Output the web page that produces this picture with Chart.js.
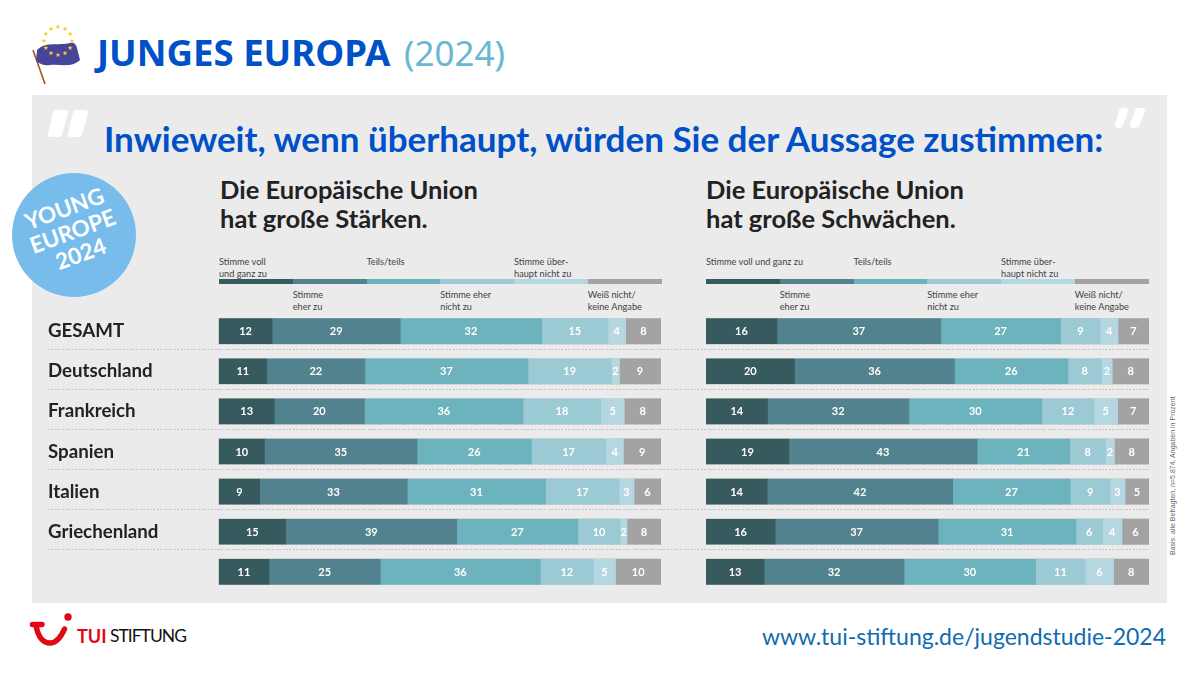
<!DOCTYPE html>
<html lang="de"><head><meta charset="utf-8">
<style>
html,body{margin:0;padding:0;background:#fff;width:1200px;height:675px;overflow:hidden}
body{position:relative;font-family:"Lato",sans-serif}
.a{position:absolute;white-space:nowrap}
#panel{left:32px;top:95px;width:1135px;height:508px;background:#ebebeb}
#t1{left:97px;top:28px;font:700 36.6px/48px "Noto Sans",sans-serif;color:#0050c8}
#t1 span{font-weight:400;font-size:35px;color:#6ab7cf;margin-left:4px}
#q{left:104px;top:114px;font:700 35px/48px "Lato",sans-serif;color:#0050c8}
.sub{font:700 25.5px/29px "Lato",sans-serif;color:#222;top:175px}
.lg{font:400 9.2px/11.5px "Lato",sans-serif;color:#444}
.strip{position:absolute;top:279px;height:5px}
.dot{position:absolute;left:48px;width:1101px;height:1px;background:repeating-linear-gradient(90deg,#c4c4c4 0 2px,transparent 2px 3.4px)}
canvas{position:absolute;display:block}
#url{right:34px;top:619px;font:400 23px/34px "Lato",sans-serif;color:#0f6cb0}
#basis{left:1168px;top:555px;font:400 7px/9px "Liberation Sans",sans-serif;color:#666;transform-origin:0 0;transform:rotate(-90deg)}
#young{left:11.5px;top:173px;width:124px;height:124px;border-radius:50%;background:#78bcec}
#yt{left:11.5px;top:173px;width:124px;text-align:center;color:#fff;font:700 22.5px/24px "Lato",sans-serif;transform:rotate(-20deg);padding-top:22px;height:102px}
#logo1{left:77px;top:623.5px;font:700 18px/24px "Lato",sans-serif;color:#e30613}
#logo2{left:110px;top:623.5px;font:400 17.5px/24px "Lato",sans-serif;letter-spacing:-1px;color:#111}
</style></head><body>
<div id="panel" class="a"></div>
<svg class="a" style="left:28px;top:20px" width="60" height="70" viewBox="28 20 60 70">
  <path d="M33 50 L45 84" stroke="#a4561c" stroke-width="1.6" fill="none"/>
  <path d="M37 50 C46 41 58 46 70 43 C74 42 76 44 77 48 L80 60 C72 68 60 64 50 65 C44 66 40 64 36 61 Z" fill="#46459a"/>
  <g fill="#f6cc2c" id="stars"></g>
</svg>
<div id="t1" class="a">JUNGES EUROPA <span>(2024)</span></div>
<svg class="a" style="left:40px;top:100px" width="1120" height="45" viewBox="40 100 1120 45" fill="#fff">
  <g stroke="#fff" stroke-width="6" stroke-linejoin="round">
    <path d="M56 113 L65 113 L59 134 L51 134 Z"/><path d="M76 113 L85 113 L79 134 L71 134 Z"/>
    <path d="M1122 111 L1125 111 L1120 125 L1118 125 Z"/><path d="M1138 111 L1142 111 L1136 125 L1133 125 Z"/>
  </g>
</svg>
<div id="q" class="a">Inwieweit, wenn überhaupt, würden Sie der Aussage zustimmen:</div>
<div id="young" class="a"></div>
<div id="yt" class="a">YOUNG<br>EUROPE<br>2024</div>
<div class="a sub" style="left:220px">Die Europäische Union<br>hat große Stärken.</div>
<div class="a sub" style="left:706px">Die Europäische Union<br>hat große Schwächen.</div>
<div id="legends"></div>
<div id="dots"></div>
<canvas id="c1" width="613" height="281" style="left:48px;top:311px"></canvas>
<canvas id="c2" width="443" height="281" style="left:706px;top:311px"></canvas>
<div id="basis" class="a">Basis: alle Befragten, n=5.874, Angaben in Prozent</div>
<svg class="a" style="left:28px;top:612px" width="50" height="40" viewBox="28 612 50 40">
  <path d="M32.5 624.5 L42 624.5 M36 625 C38 638 44 643 50 643 C56 643 61 637 64.5 629" fill="none" stroke="#e30613" stroke-width="5.5" stroke-linecap="round" stroke-linejoin="round"/>
  <circle cx="68" cy="617" r="3.7" fill="#e30613"/>
</svg>
<div id="logo1" class="a">TUI</div>
<div id="logo2" class="a">STIFTUNG</div>
<div id="url" class="a">www.tui-stiftung.de/jugendstudie-2024</div>
<script src="https://cdn.jsdelivr.net/npm/chart.js@4/dist/chart.umd.min.js"></script>
<script>
const categories = ["GESAMT","Deutschland","Frankreich","Spanien","Italien","Griechenland",""];
const seriesNames = ["Stimme voll und ganz zu","Stimme eher zu","Teils/teils","Stimme eher nicht zu","Stimme überhaupt nicht zu","Weiß nicht/keine Angabe"];
const seriesColors = ["#375a5e","#52828d","#6cb3bd","#9bcad5","#b5d7e1","#a3a3a3"];

const staerkenVoll   = [12.0,10.8,12.5,10.3, 9.2,15.1,11.3];
const staerkenEher   = [29.0,22.2,20.4,34.5,33.4,38.7,25.2];
const staerkenTeils  = [32.0,36.9,35.9,25.9,31.3,27.4,36.2];
const staerkenNicht  = [15.0,18.9,17.6,16.8,16.6, 9.6,12.0];
const staerkenUeber  = [ 4.0, 1.8, 5.3, 4.0, 3.4, 1.5, 5.0];
const staerkenWeiss  = [ 8.0, 9.3, 8.3, 8.5, 6.1, 7.7,10.3];

const schwaechenVoll  = [16.0,20.0,13.9,18.7,13.8,15.6,13.1];
const schwaechenEher  = [37.0,36.1,31.9,42.5,41.9,36.8,31.6];
const schwaechenTeils = [27.0,25.6,30.0,20.9,26.5,31.1,29.7];
const schwaechenNicht = [ 9.0, 7.6,11.8, 8.1, 9.0, 6.0,11.2];
const schwaechenUeber = [ 4.0, 2.4, 5.3, 2.0, 3.4, 4.4, 6.4];
const schwaechenWeiss = [ 7.0, 8.3, 7.1, 7.8, 5.4, 6.1, 8.0];

/* decoration: flag stars */
const starsG = document.getElementById('stars');
for (let i = 0; i < 12; i++) {
  const a = i * Math.PI / 6, cx = 58 + 14 * Math.sin(a), cy = 41 - 14 * Math.cos(a);
  let d = '';
  for (let k = 0; k < 10; k++) {
    const r = k % 2 ? 1.1 : 2.6, t = k * Math.PI / 5 - Math.PI / 2;
    d += (k ? 'L' : 'M') + (cx + r * Math.cos(t)).toFixed(2) + ' ' + (cy + r * Math.sin(t)).toFixed(2);
  }
  const p = document.createElementNS('http://www.w3.org/2000/svg', 'path');
  p.setAttribute('d', d + 'Z');
  starsG.appendChild(p);
}

/* legend strips + labels */
const legendTexts = {
  left:  [["Stimme voll","und ganz zu"],["Stimme","eher zu"],["Teils/teils"],["Stimme eher","nicht zu"],["Stimme über-","haupt nicht zu"],["Weiß nicht/","keine Angabe"]],
  right: [["Stimme voll und ganz zu"],["Stimme","eher zu"],["Teils/teils"],["Stimme eher","nicht zu"],["Stimme über-","haupt nicht zu"],["Weiß nicht/","keine Angabe"]]
};
const legendHost = document.getElementById('legends');
[[219, 'left'], [706, 'right']].forEach(([x0, side]) => {
  const w = 442.5 / 6;
  seriesColors.forEach((c, i) => {
    const s = document.createElement('div');
    s.className = 'strip';
    s.style.cssText = `left:${x0 + i * w}px;width:${w}px;background:${c}`;
    legendHost.appendChild(s);
    const l = document.createElement('div');
    l.className = 'a lg';
    l.innerHTML = legendTexts[side][i].join('<br>');
    l.style.left = (x0 + i * w) + 'px';
    l.style.top = (i % 2 === 0 ? 256 : 289) + 'px';
    legendHost.appendChild(l);
  });
});

/* dotted separators */
const dotHost = document.getElementById('dots');
[349, 389, 429, 469, 509, 549].forEach(y => {
  const d = document.createElement('div');
  d.className = 'dot';
  d.style.top = y + 'px';
  dotHost.appendChild(d);
});

const barExtras = {
  id: 'barExtras',
  beforeDatasetsDraw(chart) {
    const { ctx, scales: { x, y } } = chart;
    ctx.save();
    ctx.strokeStyle = '#d3d3d3';
    ctx.lineWidth = 1;
    categories.forEach((_, i) => {
      const cy = y.getPixelForValue(i);
      ctx.strokeRect(Math.round(x.left) - 0.5, Math.round(cy - 12.5) - 0.5, Math.round(x.right - x.left) + 1, 26);
    });
    ctx.restore();
  },
  afterDatasetsDraw(chart) {
    const { ctx } = chart;
    ctx.save();
    ctx.fillStyle = '#fff';
    ctx.font = '700 11px "Lato", sans-serif';
    ctx.textAlign = 'center';
    ctx.textBaseline = 'middle';
    chart.data.datasets.forEach((ds, di) => {
      chart.getDatasetMeta(di).data.forEach((bar, i) => {
        ctx.fillText(String(Math.round(ds.data[i])), (bar.x + bar.base) / 2, bar.y + 0.5);
      });
    });
    ctx.restore();
  }
};

function makeChart(id, rows, showRowLabels) {
  return new Chart(document.getElementById(id), {
    type: 'bar',
    plugins: [barExtras],
    data: {
      labels: categories,
      datasets: rows.map((data, i) => ({
        label: seriesNames[i], data, backgroundColor: seriesColors[i],
        borderWidth: 0, barThickness: 25
      }))
    },
    options: {
      indexAxis: 'y', responsive: false, animation: false,
      layout: { padding: 0 },
      plugins: { legend: { display: false }, tooltip: { enabled: false } },
      scales: {
        x: { stacked: true, min: 0, max: 100, display: false },
        y: {
          stacked: true, display: showRowLabels,
          grid: { display: false }, border: { display: false },
          afterFit(s) {
            if (showRowLabels) s.width = 171;
            s.paddingTop = 0; s.paddingBottom = 0;
          },
          ticks: { crossAlign: 'far', padding: 0, color: '#222',
                   font: { family: 'Lato', weight: '700', size: 18.7 } }
        }
      }
    }
  });
}
makeChart('c1', [staerkenVoll, staerkenEher, staerkenTeils, staerkenNicht, staerkenUeber, staerkenWeiss], true);
makeChart('c2', [schwaechenVoll, schwaechenEher, schwaechenTeils, schwaechenNicht, schwaechenUeber, schwaechenWeiss], false);
</script>
</body></html>
